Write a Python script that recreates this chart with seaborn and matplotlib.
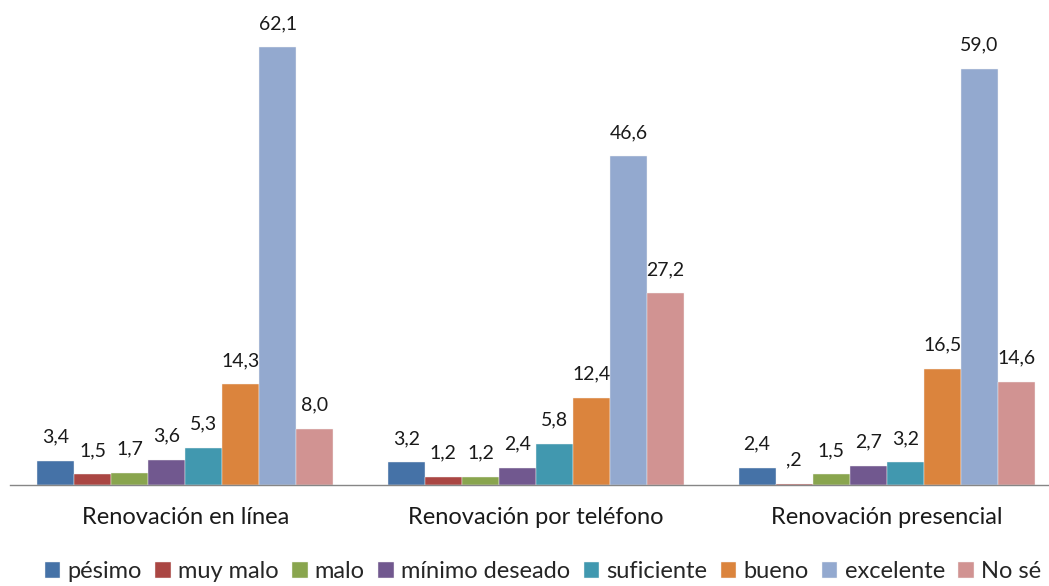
import matplotlib
matplotlib.use('Agg')
from matplotlib import pyplot as plt
import numpy as np
import pandas as pd
import seaborn as sns

# Data
categorias = ['Renovación en línea', 'Renovación por teléfono', 'Renovación presencial']
respuestas = ['pésimo', 'muy malo', 'malo', 'mínimo deseado', 'suficiente', 'bueno', 'excelente', 'No sé']
en_linea = [3.4, 1.5, 1.7, 3.6, 5.3, 14.3, 62.1, 8.0]
telefono = [3.2, 1.2, 1.2, 2.4, 5.8, 12.4, 46.6, 27.2]
presencial = [2.4, 0.2, 1.5, 2.7, 3.2, 16.5, 59.0, 14.6]
colores = ['#4572A7', '#AA4643', '#89A54E', '#71588F', '#4198AF', '#DB843D', '#93A9CF', '#D19392']

rows = []
for cat, vals in zip(categorias, [en_linea, telefono, presencial]):
    for r, v in zip(respuestas, vals):
        rows.append({'categoria': cat, 'respuesta': r, 'valor': v})
df = pd.DataFrame(rows)

sns.set_style('white')
plt.rcParams['font.family'] = ['Lato', 'DejaVu Sans']

fig = plt.figure(figsize=(10.49, 5.86), dpi=100)
# axes runs slightly past the right edge, as in the reference
ax = fig.add_axes([10 / 1049, 1 - 485 / 586, 1052 / 1049, 65 * 7.05 / 586])

sns.barplot(data=df, x='categoria', y='valor', hue='respuesta', hue_order=respuestas,
            palette=colores, width=0.845, gap=0, edgecolor='#f4f4f4', linewidth=0.3,
            saturation=1, ax=ax, legend=True)

ax.set_ylim(0, 65)
ax.set_xlim(-0.5, 2.5)


def fmt(v):
    s = f'{v:.1f}'.replace('.', ',')
    if s.startswith('0'):
        s = s[1:]
    return s


for cont in ax.containers:
    for bar in cont:
        h = bar.get_height()
        ax.annotate(fmt(h), (bar.get_x() + bar.get_width() / 2, h),
                    xytext=(0, 11), textcoords='offset points',
                    ha='center', va='bottom', fontsize=14, color='#1a1a1a')

for s in ['top', 'right', 'left']:
    ax.spines[s].set_visible(False)
ax.spines['bottom'].set_color('#868686')
ax.spines['bottom'].set_linewidth(1.0)
ax.set_yticks([])
ax.set_xlabel('')
ax.set_ylabel('')
ax.set_xticks([0, 1, 2])
ax.set_xticklabels(categorias, fontsize=17, color='#1a1a1a')
ax.tick_params(axis='x', which='major', length=0, pad=16)
ax.set_xticks([-0.5, 0.5, 1.5, 2.5], minor=True)
ax.tick_params(axis='x', which='minor', length=7, width=1, color='#868686', direction='out')

handles, labels = ax.get_legend_handles_labels()
ax.get_legend().remove()
fig.legend(handles, labels, loc='center', bbox_to_anchor=(543 / 1049, 1 - 572 / 586),
           ncol=8, frameon=False, fontsize=17, handlelength=0.65, handleheight=0.65,
           handletextpad=0.3, columnspacing=0.58, borderaxespad=0)

fig.savefig('out.png', dpi=100)
